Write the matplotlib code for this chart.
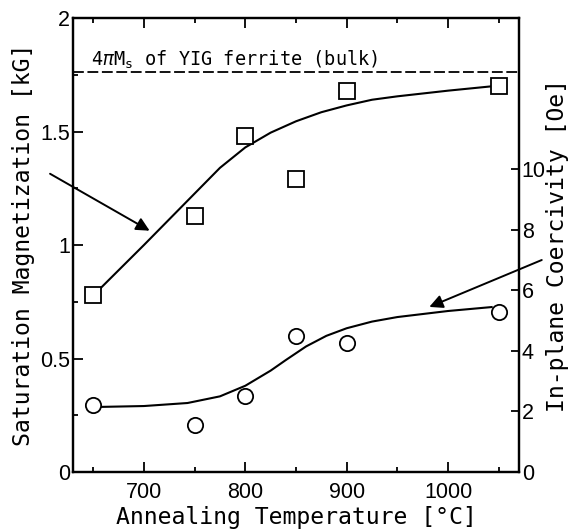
import numpy as np
import matplotlib
matplotlib.use('Agg')
import matplotlib.pyplot as plt
from matplotlib.ticker import MultipleLocator

# ---------------- data ---------------- #
temps = [650, 750, 800, 850, 900, 1050]
ms_kG = [0.78, 1.13, 1.48, 1.29, 1.68, 1.70]        # squares, left axis
hc_Oe = [2.2, 1.55, 2.5, 4.5, 4.27, 5.3]             # circles, right axis

# hand drawn guide curves
ms_fit_x = [655, 700, 743, 775, 800, 825, 850, 875, 900, 925, 950, 1000, 1045]
ms_fit_y = [0.80, 1.00, 1.195, 1.34, 1.43, 1.495, 1.545, 1.585, 1.615, 1.64, 1.655, 1.68, 1.70]
hc_fit_x = [655, 700, 743, 775, 800, 825, 840, 860, 880, 900, 925, 950, 1000, 1043]
hc_fit_y = [2.15, 2.18, 2.28, 2.5, 2.85, 3.35, 3.7, 4.15, 4.5, 4.75, 4.97, 5.12, 5.32, 5.45]

yig_bulk = 1.76   # kG
x_ticks = [700, 800, 900, 1000]
left_ticks = [0, 0.5, 1, 1.5, 2]
left_labels = ['0', '0.5', '1', '1.5', '2']
right_ticks = [0, 2, 4, 6, 8, 10]

mono = 'DejaVu Sans Mono'
num = 'Liberation Sans'
plt.rcParams['mathtext.fontset'] = 'custom'
plt.rcParams['mathtext.rm'] = mono
plt.rcParams['mathtext.it'] = mono + ':italic'

fig = plt.figure(figsize=(5.76, 5.30), dpi=100)
ax = fig.add_axes([0.1267, 0.1094, 0.7743, 0.8566])
ax2 = ax.twinx()

# --- left axis: saturation magnetization --- #
ax.plot(ms_fit_x, ms_fit_y, color='black', lw=1.5, zorder=2)
ax.plot(temps, ms_kG, ls='none', marker='s', ms=11, mfc='white', mec='black', mew=1.3, zorder=3)
ax.axhline(yig_bulk, color='black', lw=1.3, ls=(0, (6, 2)))
ax.text(648, 1.79, r'4$\pi$M$_\mathrm{s}$ of YIG ferrite (bulk)', family=mono, fontsize=13.4,
        ha='left', va='baseline')

# --- right axis: coercivity --- #
ax2.plot(hc_fit_x, hc_fit_y, color='black', lw=1.5, zorder=2)
ax2.plot(temps, hc_Oe, ls='none', marker='o', ms=11, mfc='white', mec='black', mew=1.3, zorder=3)

# arrows pointing to the curves
ax.annotate('', xy=(708, 1.057), xytext=(605, 1.32), annotation_clip=False,
            arrowprops=dict(arrowstyle='-|>', color='black', lw=1.4, mutation_scale=20))
ax2.annotate('', xy=(979, 5.42), xytext=(1095, 7.04), annotation_clip=False,
             arrowprops=dict(arrowstyle='-|>', color='black', lw=1.4, mutation_scale=20))

ax.set_xlim(630, 1070)
ax.set_ylim(0, 2)
ax2.set_ylim(0, 15)

ax.set_xticks(x_ticks)
ax.xaxis.set_minor_locator(MultipleLocator(50))
ax.set_yticks(left_ticks)
ax.set_yticklabels(left_labels)
ax.yaxis.set_minor_locator(MultipleLocator(0.25))
ax2.set_yticks(right_ticks)

ax.tick_params(axis='x', which='both', direction='in', top=True, bottom=True)
ax.tick_params(axis='x', which='major', length=7, width=1.3, pad=7)
ax.tick_params(axis='x', which='minor', length=3.5, width=1.3)
ax.tick_params(axis='y', which='both', direction='in', left=True, right=False)
ax.tick_params(axis='y', which='major', length=7, width=1.3, pad=2)
ax.tick_params(axis='y', which='minor', length=3.5, width=1.3)
ax2.tick_params(axis='y', direction='in', length=6, width=1.3, pad=2)

for a in (ax, ax2):
    for lab in a.get_xticklabels() + a.get_yticklabels():
        lab.set_family(num)
        lab.set_fontsize(15.5)
    for s in a.spines.values():
        s.set_linewidth(1.6)

ax.set_xlabel('Annealing Temperature [°C]', family=mono, fontsize=16.7, labelpad=2)
ax.set_ylabel('Saturation Magnetization [kG]', family=mono, fontsize=16.7, labelpad=4)
ax2.set_ylabel('In-plane Coercivity [Oe]', family=mono, fontsize=16.7, labelpad=0)

fig.savefig('out.png', dpi=100)
